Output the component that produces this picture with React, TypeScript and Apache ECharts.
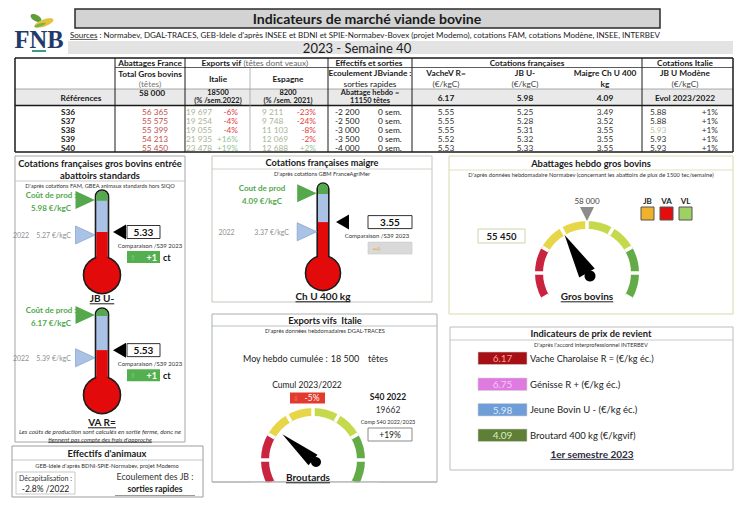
import React, { useEffect, useRef } from 'react';
import * as echarts from 'echarts';

const FONT = 'Lato, "Open Sans", "DejaVu Sans", sans-serif';

// ---------------- data ----------------
const weeks = ['S36', 'S37', 'S38', 'S39', 'S40'];
const abattagesFrance = [56365, 55575, 55399, 54213, 55450];
const exportsItalie = [19697, 19254, 19055, 21935, 23478];
const exportsItaliePct = [-6, -4, -4, 16, 19];
const exportsEspagne = [9211, 9748, 11103, 12069, 12688];
const exportsEspagnePct = [-23, -24, -8, -2, 2];
const ecoulementJB = [-2200, -2500, -3000, -3500, -4000];
const ecoulementSem = [0, 0, 0, 0, 0];
const cotVacheR = [5.55, 5.55, 5.55, 5.52, 5.53];
const cotJBU = [5.25, 5.28, 5.31, 5.32, 5.33];
const cotMaigre = [3.49, 3.52, 3.55, 3.55, 3.55];
const cotModene = [5.88, 5.88, 5.93, 5.93, 5.93];
const cotModenePct = [1, 1, 1, 1, 1];

const refAbattages = 58000;
const refItalie = 18500;
const refEspagne = 8200;
const refAbattageHebdo = 11150;
const refVache = 6.17;
const refJB = 5.98;
const refMaigre = 4.09;

const thermoNames = ['JB U-', 'VA R=', 'Ch U 400 kg'];
const thermoCurrent = [5.33, 5.53, 3.55];
const thermoCost = [5.98, 6.17, 4.09];
const thermoPrev2022 = [5.27, 5.39, 3.37];
const thermoChangeCt = [1, 1, 0];

const abattagesHebdo = 55450;
const abattagesHebdoRef = 58000;

const exportsMoyHebdo = 18500;
const exportsCumulPct = -5;
const s40Of2022 = 19662;
const compS40Pct = 19;

const prixLabels = [
  'Vache Charolaise R = (€/kg éc.)',
  'Génisse R + (€/kg éc.)',
  'Jeune Bovin U - (€/kg éc.)',
  'Broutard 400 kg (€/kgvif)',
];
const prixValues = [6.17, 6.75, 5.98, 4.09];

const decapitalisationPct = -2.8;

// ---------------- helpers ----------------
const fmtInt = (n: number) => {
  const s = String(Math.abs(n)).replace(/\B(?=(\d{3})+(?!\d))/g, ' ');
  return (n < 0 ? '-' : '') + s;
};
const fmtPct = (p: number) => (p > 0 ? '+' : '') + p + '%';

let mctx: any = null;
const measure = (text: string, size: number, bold: boolean, italic = false, fam = FONT) => {
  if (!mctx) mctx = document.createElement('canvas').getContext('2d');
  mctx.font = `${italic ? 'italic ' : ''}${bold ? 'bold ' : ''}${size}px ${fam}`;
  return mctx.measureText(text).width;
};

function buildOption() {
  const els: any[] = [];
  const T = (x: number, y: number, text: string, o: any = {}) => {
    const s0 = o.s ?? 8.5;
    const b = !!o.b;
    const a = o.a ?? 'center';
    let size = s0;
    if (o.w) size = (s0 * o.w) / measure(text, s0, b, !!o.i, o.f ?? FONT);
    els.push({
      type: 'text', x, y, z: o.z ?? 20, silent: true,
      style: {
        text, fill: o.c ?? '#1a1a1a', fontSize: size,
        fontWeight: b ? 'bold' : 'normal', fontStyle: o.i ? 'italic' : 'normal',
        fontFamily: o.f ?? FONT, textAlign: a, textVerticalAlign: 'middle', align: a, verticalAlign: 'middle',
      },
    });
    const w = measure(text, size, b, !!o.i, o.f ?? FONT);
    if (o.u) {
      const x0 = a === 'center' ? x - w / 2 : a === 'right' ? x - w : x;
      const yy = y + size * 0.58;
      els.push({ type: 'line', z: o.z ?? 20, silent: true, shape: { x1: x0, y1: yy, x2: x0 + w, y2: yy }, style: { stroke: o.c ?? '#1a1a1a', lineWidth: b ? 1 : 0.7 } });
    }
    return w;
  };
  const R = (x: number, y: number, w: number, h: number, fill: string, stroke?: string, lw = 1, z = 5) => {
    els.push({ type: 'rect', z, silent: true, shape: { x, y, width: w, height: h }, style: { fill, stroke: stroke ?? 'none', lineWidth: lw } });
  };
  const L = (x1: number, y1: number, x2: number, y2: number, stroke = '#222', lw = 1, z = 6) => {
    els.push({ type: 'line', z, silent: true, shape: { x1, y1, x2, y2 }, style: { stroke, lineWidth: lw } });
  };

  // ---------- header ----------
  els.push({ type: 'ellipse', z: 8, silent: true, x: 36, y: 18, rotation: -0.5, shape: { cx: 0, cy: 0, rx: 6, ry: 3 }, style: { fill: '#5d9e3c' } });
  els.push({ type: 'ellipse', z: 8, silent: true, x: 44, y: 23, rotation: 0.35, shape: { cx: 0, cy: 0, rx: 10, ry: 3.5 }, style: { fill: '#e5c23e' } });
  els.push({ type: 'ellipse', z: 9, silent: true, x: 40, y: 25, rotation: 0.3, shape: { cx: 0, cy: 0, rx: 6, ry: 1.5 }, style: { fill: '#7fb24a' } });
  T(39, 39, 'FNB', { s: 22, b: true, f: '"Liberation Serif", "DejaVu Serif", serif', c: '#1f3a6b', w: 49 });
  L(32, 51, 46, 51, '#3f9c88', 2);

  R(75, 9, 585, 19, '#d3d3d3', '#2b2b2b', 1.5);
  T(367, 18.5, 'Indicateurs de marché viande bovine', { s: 14, b: true, w: 229 });
  const srcW = T(70, 34.8, 'Sources', { s: 8, a: 'left', u: true, c: '#222' });
  T(70 + srcW, 34.8, ' : Normabev, DGAL-TRACES, GEB-Idele d\'après INSEE et BDNI et SPIE-Normabev-Bovex (projet Modemo), cotations FAM, cotations Modène, INSEE, INTERBEV', { s: 8, a: 'left', c: '#222', w: 590 - srcW });
  R(68, 41, 665, 13, '#e3e3e3');
  T(357, 48, '2023 - Semaine 40', { s: 13 });

  // ---------- table ----------
  const tT = 58, tB = 152;
  R(15, 89, 718, 16.5, '#e9e9e9', undefined, 1, 3);
  L(15, tT, 733, tT, '#1a1a1a', 1.5);
  L(115, 67.5, 733, 67.5, '#333', 0.8);
  L(15, 89, 733, 89, '#777', 0.6);
  L(15, 105.5, 733, 105.5, '#1a1a1a', 1.3);
  L(15, tB, 733, tB, '#1a1a1a', 1.5);
  [15, 115, 185, 328, 412, 642, 733].forEach((x) => L(x, tT, x, tB, '#1a1a1a', x === 15 || x === 733 ? 1.5 : 1));
  L(250, 67.5, 250, tB, '#9a9a9a', 0.7);

  const hs = 8.3;
  T(150, 63, 'Abattages France', { s: hs, b: true });
  const w1 = measure('Exports vif ', hs, true);
  const w2 = measure('(têtes dont veaux)', hs, false);
  T(255 - (w1 + w2) / 2, 63, 'Exports vif ', { s: hs, b: true, a: 'left' });
  T(255 - (w1 + w2) / 2 + w1, 63, '(têtes dont veaux)', { s: hs, a: 'left', c: '#666' });
  T(369, 63, 'Effectifs et sorties', { s: hs, b: true });
  T(527, 63, 'Cotations françaises', { s: hs, b: true });
  T(685, 63, 'Cotations Italie', { s: hs, b: true });

  T(150, 73.5, 'Total Gros bovins', { s: hs, b: true });
  T(150, 84, '(têtes)', { s: hs, c: '#777' });
  T(218, 79, 'Italie', { s: hs, b: true });
  T(288, 79, 'Espagne', { s: hs, b: true });
  T(370, 73, 'Ecoulement JBviande :', { s: hs, b: true });
  T(370, 84, 'sorties rapides', { s: hs });
  T(446, 73, 'VacheV R=', { s: hs, b: true });
  T(446, 84, '(€/kgC)', { s: hs, c: '#444' });
  T(525, 73, 'JB U-', { s: hs, b: true });
  T(525, 84, '(€/kgC)', { s: hs, c: '#444' });
  T(605, 73, 'Maigre Ch U 400', { s: hs, b: true });
  T(605, 84, 'kg', { s: hs, b: true });
  T(685, 73, 'JB U Modène', { s: hs, b: true });
  T(685, 84, '(€/kgC)', { s: hs, c: '#444' });

  const rs = 7.4;
  T(81, 97.5, 'Références', { s: hs, b: true });
  T(152, 93, fmtInt(refAbattages), { s: hs, b: true });
  T(218, 92.8, String(refItalie), { s: rs, b: true });
  T(218, 100.8, '(% /sem.2022)', { s: rs, b: true, u: true });
  T(288, 92.8, String(refEspagne), { s: rs, b: true });
  T(288, 100.8, '(% /sem. 2021)', { s: rs, b: true, u: true });
  T(370, 92.8, 'Abattage hebdo =', { s: rs, b: true });
  T(370, 100.8, refAbattageHebdo + ' têtes', { s: rs, b: true, u: true });
  T(446, 97.5, refVache.toFixed(2), { s: hs, b: true });
  T(525, 97.5, refJB.toFixed(2), { s: hs, b: true });
  T(605, 97.5, refMaigre.toFixed(2), { s: hs, b: true });
  T(685, 97.5, 'Evol 2023/2022', { s: hs, b: true });

  const rowY = [112, 121, 130, 139.3, 148];
  const ds = 8.3;
  weeks.forEach((w, i) => {
    const y = rowY[i];
    T(68, y, w, { s: ds, b: true });
    T(155, y, fmtInt(abattagesFrance[i]), { s: ds, c: '#c4504d' });
    T(186, y, fmtInt(exportsItalie[i]), { s: ds, a: 'left', c: '#a8b496' });
    T(238, y, fmtPct(exportsItaliePct[i]), { s: ds, a: 'right', c: exportsItaliePct[i] < 0 ? '#e0403c' : '#93c593' });
    T(262, y, fmtInt(exportsEspagne[i]), { s: ds, a: 'left', c: '#a8b496' });
    T(316, y, fmtPct(exportsEspagnePct[i]), { s: ds, a: 'right', c: exportsEspagnePct[i] < 0 ? '#e0403c' : '#93c593' });
    T(335, y, fmtInt(ecoulementJB[i]), { s: ds, a: 'left', c: '#222' });
    T(378, y, ecoulementSem[i] + ' sem.', { s: ds, a: 'left', c: '#222' });
    T(446, y, cotVacheR[i].toFixed(2), { s: ds, c: '#333' });
    T(525, y, cotJBU[i].toFixed(2), { s: ds, c: '#333' });
    T(605, y, cotMaigre[i].toFixed(2), { s: ds, c: '#333' });
    T(650, y, cotModene[i].toFixed(2), { s: ds, a: 'left', c: i === 2 ? '#b5c69c' : '#333' });
    T(718, y, fmtPct(cotModenePct[i]), { s: ds, a: 'right', c: '#333' });
  });

  // ---------- left panel ----------
  R(15, 156, 170, 286, 'none', '#a6a6a6', 1);
  L(15, 181, 185, 181, '#bdbdbd', 0.8);
  T(100, 163, 'Cotations françaises gros bovins entrée', { s: 10.5, b: true, w: 164 });
  T(100, 175, 'abattoirs standards', { s: 10.5, b: true, w: 80 });
  T(100, 185.5, 'D\'après cotations FAM, GBEA animaux standards hors SIQO', { s: 5.5, c: '#333', w: 150 });
  T(102, 298, thermoNames[0], { s: 10, b: true, u: true });
  T(102, 422, thermoNames[1], { s: 10, b: true, u: true });
  T(100, 431, 'Les coûts de production sont calculés en sortie ferme, donc ne', { s: 5.5, i: true, c: '#333', w: 162 });
  T(100, 439, 'tiennent pas compte des frais d\'approche', { s: 5.5, i: true, c: '#333', w: 104, u: true });

  // Effectifs d'animaux
  R(12, 446, 191, 51, 'none', '#9c9c9c', 1);
  L(12, 460, 203, 460, '#b5b5b5', 0.8);
  T(107, 453, 'Effectifs d\'animaux', { s: 10.5, b: true, w: 79 });
  T(107, 465.5, 'GEB-Idele d\'après BDNI-SPIE-Normabev, projet Modemo', { s: 5.5, c: '#333', w: 144 });
  R(16, 472, 59, 22, 'none', '#c9c9c9', 1);
  T(45.5, 477.5, 'Décapitalisation :', { s: 7, c: '#333' });
  T(45.5, 489, decapitalisationPct.toFixed(1) + '% /2022', { s: 8.5, c: '#222' });
  T(155, 476, 'Ecoulement des JB :', { s: 8.8, c: '#333' });
  T(155, 489, 'sorties rapides', { s: 8.5, b: true, c: '#222' });
  L(115, 495.5, 195, 495.5, '#9a9a9a', 1);

  // ---------- middle: maigre ----------
  R(212, 156, 220, 146, 'none', '#c6c6bd', 1);
  L(212, 169, 432, 169, '#c6c6bd', 0.8);
  T(322, 162.5, 'Cotations françaises maigre', { s: 10.5, b: true, w: 113 });
  T(322, 173.5, 'D\'après cotations GBM FranceAgriMer', { s: 5.5, c: '#333', w: 96 });
  T(323, 296, thermoNames[2], { s: 10, b: true, u: true });

  // ---------- exports vifs ----------
  R(212, 314, 225, 168, 'none', '#aab0b0', 1);
  L(212, 326, 437, 326, '#aab0b0', 0.8);
  T(325, 320, 'Exports vifs  Italie', { s: 10, b: true, w: 74 });
  T(325, 330.5, 'D\'après données hebdomadaires DGAL-TRACES', { s: 5.5, c: '#333', w: 120 });
  T(243, 358, 'Moy hebdo cumulée :', { s: 9, a: 'left', c: '#222', w: 85 });
  T(345, 358, fmtInt(exportsMoyHebdo), { s: 9, c: '#222' });
  T(378, 358, 'têtes', { s: 9, c: '#222' });
  T(307, 385, 'Cumul 2023/2022', { s: 8.5, c: '#222' });
  R(290, 392.5, 35, 11, '#e23b2e');
  T(296, 398, '⇩', { s: 7, c: '#f08070' });
  T(312, 398, fmtPct(exportsCumulPct), { s: 8.5, c: '#fff' });
  T(388, 397, 'S40 2022', { s: 8.5, b: true });
  T(388, 410, String(s40Of2022), { s: 8.5, c: '#333' });
  T(388, 422, 'Comp S40 2022/2023', { s: 5.5, c: '#333' });
  R(368, 428, 44, 13, '#fff', '#8a8a8a', 1);
  T(390, 434.5, fmtPct(compS40Pct), { s: 8.5, c: '#222' });
  T(308, 477, 'Broutards', { s: 10, b: true, u: true, z: 60 });

  // ---------- abattages hebdo ----------
  R(449, 156, 284, 158, 'none', '#d8d8ae', 1);
  L(449, 170, 733, 170, '#d8d8ae', 0.8);
  T(591, 163, 'Abattages hebdo gros bovins', { s: 10.5, b: true, w: 120 });
  T(591, 174, 'D\'après données hebdomadaire Normabev (concernant les abattoirs de plus de 1500 tec/semaine)', { s: 5.5, c: '#333', w: 246 });
  [['JB', '#f0b22a'], ['VA', '#e30d0d'], ['VL', '#9fd064']].forEach(([lab, col], i) => {
    const x = 641 + i * 19;
    T(x + 6.5, 201, lab, { s: 8, b: true, c: '#222' });
    R(x, 207, 13, 13, col, '#555', 1);
  });
  R(478, 229, 47, 14, '#fff', '#d4d4a8', 1);
  T(501.5, 236, fmtInt(abattagesHebdo), { s: 9.5, b: true });
  T(587, 296, 'Gros bovins', { s: 10, b: true, u: true });

  // ---------- prix de revient ----------
  R(450, 327, 283, 143, 'none', '#bdbdbd', 1);
  L(450, 340, 733, 340, '#bdbdbd', 0.8);
  T(591, 333.5, 'Indicateurs de prix de revient', { s: 10.5, b: true, w: 121 });
  T(591, 344, 'D\'après l\'accord interprofessionnel INTERBEV', { s: 5.5, c: '#333', w: 114 });
  const pFill = ['#a60f14', '#df7be0', '#6f9dd8', '#5f7f37'];
  const pText = ['#ff9a9a', '#f7c6f7', '#dde9f9', '#d9efbf'];
  const pY = [358, 384, 409.5, 435];
  prixValues.forEach((v, i) => {
    R(478, pY[i] - 6, 49, 12.5, pFill[i], '#d0d0d0', 0.6);
    T(502.5, pY[i], v.toFixed(2), { s: 10, c: pText[i] });
    T(530, pY[i], prixLabels[i], { s: 9.5, a: 'left', c: '#222', w: i === 0 ? 124 : undefined });
  });
  T(592, 453.5, '1er semestre 2023', { s: 10, b: true, u: true, c: '#2b2b40' });

  // ---------- thermometers (custom series) ----------
  const thermoCfg = [
    { cx: 102, top: 190, bc: 275, R: 18.5, hw: 6.5, min: 4.46, max: 6.18, triApex: 11, boxX: 25, boxW: 33, cmpX: 48, costTx: -51, prevTx: -31, gap: '    ', costLabel: 'Coût de prod :' },
    { cx: 102, top: 308, bc: 395, R: 18.5, hw: 6.5, min: 4.71, max: 6.3, triApex: 11, boxX: 25, boxW: 33, cmpX: 48, costTx: -51, prevTx: -31, gap: '    ', costLabel: 'Coût de prod :' },
    { cx: 323, top: 183, bc: 273, R: 17.5, hw: 5.8, min: 2.6, max: 4.28, triApex: 13, boxX: 45, boxW: 44, cmpX: 54, costTx: -61, prevTx: -34, gap: '           ', costLabel: 'Cout de prod' },
  ];
  const makeRender = (cfg: any) => (params: any, api: any) => {
    const cs = params.coordSys;
    const cur = api.value(1), cost = api.value(2), prev = api.value(3), chg = api.value(4);
    const pc = api.coord([0, cur]);
    const cx = pc[0], curY = pc[1];
    const costY = api.coord([0, cost])[1];
    const prevY = api.coord([0, prev])[1];
    const top = cs.y, bc = cs.y + cs.height, Rr = cfg.R, hw = cfg.hw;
    const bulbTop = bc - Math.sqrt(Rr * Rr - hw * hw);
    const red = '#e20a0a', blue = '#a9c2e6', green = '#55a94c', dark = '#1c1c1c';
    const tx = (x: number, y: number, text: string, s: number, fill: string, weight = 'normal', align = 'center') => ({
      type: 'text', x, y,
      style: { text, fill, fontSize: s, fontWeight: weight, fontFamily: FONT, textAlign: align, textVerticalAlign: 'middle', align, verticalAlign: 'middle' },
    });
    const bx = cx + cfg.boxX, bw = cfg.boxW;
    const children: any[] = [
      { type: 'rect', shape: { x: cx - hw, y: top, width: 2 * hw, height: bulbTop - top + 3, r: [hw, hw, 0, 0] }, style: { fill: blue, stroke: dark, lineWidth: 1.6 } },
      { type: 'rect', shape: { x: cx - hw + 0.8, y: top + 0.8, width: 2 * hw - 1.6, height: Math.max(0, costY - top), r: [hw - 1, hw - 1, 0, 0] }, style: { fill: green } },
      { type: 'circle', shape: { cx, cy: bc, r: Rr }, style: { fill: red, stroke: dark, lineWidth: 1.6 } },
      { type: 'rect', shape: { x: cx - hw + 0.8, y: curY, width: 2 * hw - 1.6, height: bulbTop - curY + 5 }, style: { fill: red } },
      { type: 'polygon', shape: { points: [[cx - hw - 0.5, costY], [cx - hw - 20, costY - 9], [cx - hw - 20, costY + 9]] }, style: { fill: green } },
      { type: 'polygon', shape: { points: [[cx - hw - 0.5, prevY], [cx - hw - 20, prevY - 9], [cx - hw - 20, prevY + 9]] }, style: { fill: blue, stroke: '#8aa6cf', lineWidth: 0.8 } },
      { type: 'polygon', shape: { points: [[cx + cfg.triApex, curY], [cx + cfg.triApex + 13, curY - 7.5], [cx + cfg.triApex + 13, curY + 7.5]] }, style: { fill: '#000' } },
      { type: 'rect', shape: { x: bx, y: curY - 6.5, width: bw, height: 13 }, style: { fill: '#fff', stroke: '#333', lineWidth: 1 } },
      tx(bx + bw / 2, curY, cur.toFixed(2), 10, '#111', 'bold'),
      tx(cx + cfg.cmpX, curY + 13.5, 'Comparaison /S39 2023', 6, '#333'),
      tx(cx + cfg.costTx, costY - 5, cfg.costLabel, 8, '#52a84c', 'bold'),
      tx(cx + cfg.costTx, costY + 8, cost.toFixed(2) + ' €/kgC', 8, '#52a84c', 'bold'),
      tx(cx + cfg.prevTx, prevY, '2022' + cfg.gap + prev.toFixed(2) + ' €/kgC', 7, '#8f8f8f', 'normal', 'right'),
    ];
    if (chg !== 0) {
      children.push({ type: 'rect', shape: { x: bx, y: curY + 19, width: bw, height: 12 }, style: { fill: '#54b04f' } });
      children.push(tx(bx + 6, curY + 25, '⇧', 7, '#86cf80'));
      children.push(tx(bx + bw - 3, curY + 25, (chg > 0 ? '+' : '') + chg, 9, '#fff', 'bold', 'right'));
      children.push(tx(bx + bw + 3, curY + 25, 'ct', 9, '#111', 'bold', 'left'));
    } else {
      children.push({ type: 'rect', shape: { x: bx, y: curY + 20, width: bw, height: 12 }, style: { fill: '#d9d9d9', stroke: '#c8c8c8', lineWidth: 0.6 } });
      children.push(tx(bx + 9, curY + 26, '⇨', 9, '#f0a436'));
    }
    return { type: 'group', children };
  };

  const grid = thermoCfg.map((c) => ({ left: c.cx - 20, top: c.top, width: 40, height: c.bc - c.top, show: false }));
  const xAxis = thermoCfg.map((_, i) => ({ type: 'category', gridIndex: i, data: [thermoNames[i]], show: false }));
  const yAxis = thermoCfg.map((c, i) => ({ type: 'value', gridIndex: i, min: c.min, max: c.max, show: false }));
  const thermoSeries = thermoCfg.map((c, i) => ({
    type: 'custom', xAxisIndex: i, yAxisIndex: i, z: 10,
    renderItem: makeRender(c),
    encode: { x: 0, y: 1 },
    data: [[0, thermoCurrent[i], thermoCost[i], thermoPrev2022[i], thermoChangeCt[i]]],
  }));

  const segColors = [[0.25, '#c9233f'], [0.5, '#e8d649'], [0.75, '#c6d94c'], [1, '#63ab47']];
  const gaugeBase = (center: number[], radius: number, min: number, max: number) => ({
    type: 'gauge', center, radius, startAngle: 210, endAngle: -30, min, max, splitNumber: 8,
    axisLine: { lineStyle: { width: 8, color: segColors } },
    splitLine: { distance: -8, length: 8, lineStyle: { color: '#fff', width: 3.5 } },
    axisTick: { show: false }, axisLabel: { show: false },
    title: { show: false }, detail: { show: false },
  });

  const gaugeAbattages = {
    ...gaugeBase([587, 273], 52, 48000, 68000),
    z: 4,
    pointer: { icon: 'triangle', length: 44, width: 18, offsetCenter: [0, 0], keepAspect: false, itemStyle: { color: '#000' } },
    anchor: { show: true, size: 11, showAbove: true, offsetCenter: [3, 3], itemStyle: { color: '#000' } },
    data: [{ value: abattagesHebdo }],
  };
  const gaugeRefMarker = {
    type: 'gauge', center: [587, 273], radius: 52, startAngle: 210, endAngle: -30, min: 48000, max: 68000, z: 5,
    axisLine: { show: false }, splitLine: { show: false }, axisTick: { show: false }, axisLabel: { show: false },
    title: { show: false },
    pointer: { icon: 'path://M0 0L14 0L7 14Z M7 65.8L7.2 66L7 66Z', length: 66, width: 14, keepAspect: false, itemStyle: { color: '#8c8c8c' } },
    anchor: { show: false },
    detail: { show: true, offsetCenter: [0, -72], fontSize: 8, color: '#444', fontFamily: FONT, fontWeight: 'normal', formatter: (v: number) => fmtInt(v) },
    data: [{ value: abattagesHebdoRef }],
  };
  const gaugeBroutards = {
    ...gaugeBase([313, 460], 52, -12, 12),
    z: 4,
    pointer: { icon: 'triangle', length: 40, width: 14, offsetCenter: [0, 0], keepAspect: false, itemStyle: { color: '#000' } },
    anchor: { show: true, size: 10, showAbove: true, offsetCenter: [3, 2], itemStyle: { color: '#000' } },
    data: [{ value: exportsCumulPct }],
  };

  els.push({ type: 'rect', z: 50, silent: true, shape: { x: 250, y: 482.6, width: 130, height: 10 }, style: { fill: '#fff' } });
  els.push({ type: 'line', z: 51, silent: true, shape: { x1: 212, y1: 482, x2: 437, y2: 482 }, style: { stroke: '#aab0b0', lineWidth: 1 } });

  return {
    animation: false,
    backgroundColor: '#fff',
    grid, xAxis, yAxis,
    series: [...thermoSeries, gaugeAbattages, gaugeRefMarker, gaugeBroutards],
    graphic: { elements: els },
  };
}

export default function App() {
  const ref = useRef<HTMLDivElement>(null);
  useEffect(() => {
    const chart = echarts.init(ref.current as HTMLDivElement, null, { renderer: 'svg' });
    chart.setOption(buildOption() as any);
    return () => chart.dispose();
  }, []);
  return <div ref={ref} style={{ position: 'fixed', left: 0, top: 0, width: 747, height: 528, background: '#fff' }} />;
}
